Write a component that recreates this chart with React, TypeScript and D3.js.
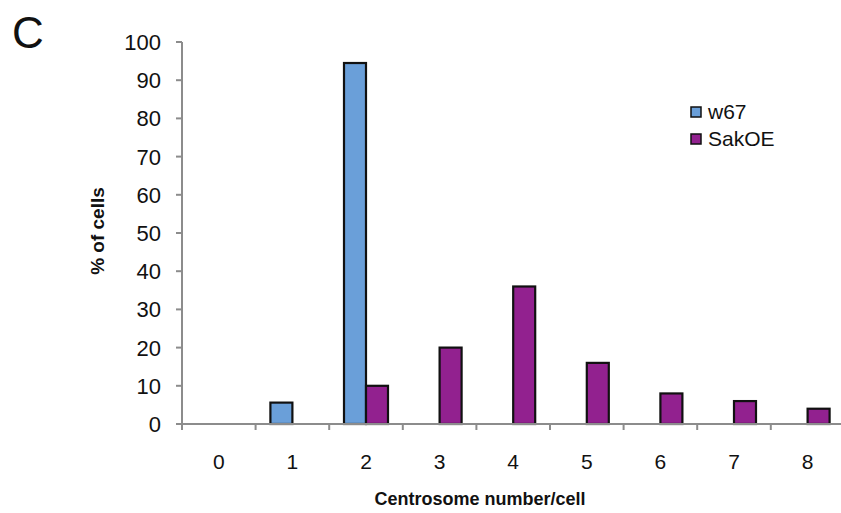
import React from 'react';
import * as d3 from 'd3';

// Grouped bar chart: centrosome number per cell, two genotypes.

const categories = ['0', '1', '2', '3', '4', '5', '6', '7', '8'];
const seriesNames = ['w67', 'SakOE'];
const w67 = [0, 5.6, 94.5, 0, 0, 0, 0, 0, 0];
const sakOE = [0, 0, 10, 20, 36, 16, 8, 6, 4];
const yTicks = [0, 10, 20, 30, 40, 50, 60, 70, 80, 90, 100];

const COLORS = ['#6a9fd9', '#92218f'];
const WIDTH = 841;
const HEIGHT = 513;
const FONT = 'Liberation Sans, Arial, Helvetica, sans-serif';

const App = () => {
  const x = d3.scaleBand().domain(categories).range([182, 182 + 9 * 73.6]);
  const inner = d3.scaleBand().domain(seriesNames).range([0, 44]);
  const y = d3.scaleLinear().domain([0, 100]).range([424, 42]);
  const groupOffset = (x.bandwidth() - 44) / 2;
  const data = [w67, sakOE];
  const x0 = x.range()[0];
  const x1 = x.range()[1];

  return (
    <svg width={WIDTH} height={HEIGHT} style={{ position: 'absolute', left: 0, top: 0, fontFamily: FONT }}>
      <rect width={WIDTH} height={HEIGHT} fill="#fff" />
      <text x={12} y={48} fontSize={44} fill="#111">C</text>

      {/* y axis */}
      <line x1={x0} x2={x0} y1={y(100)} y2={y(0)} stroke="#8c8c8c" strokeWidth={2} />
      {yTicks.map(t => (
        <g key={t}>
          <line x1={x0 - 6} x2={x0} y1={y(t)} y2={y(t)} stroke="#8c8c8c" strokeWidth={2} />
          <text x={161} y={y(t) + 8} textAnchor="end" fontSize={22} fill="#111">{t}</text>
        </g>
      ))}

      {/* bars */}
      {seriesNames.map((s, si) =>
        categories.map((c, ci) => {
          const v = data[si][ci];
          if (!v) return null;
          return (
            <rect
              key={s + c}
              x={(x(c) as number) + groupOffset + (inner(s) as number)}
              y={y(v)}
              width={inner.bandwidth()}
              height={y(0) - y(v)}
              fill={COLORS[si]}
              stroke="#111"
              strokeWidth={2.2}
            />
          );
        })
      )}

      {/* x axis */}
      <line x1={x0 - 6} x2={x1} y1={y(0)} y2={y(0)} stroke="#8c8c8c" strokeWidth={2} />
      {categories.map(c => (
        <g key={c}>
          <line x1={x(c) as number} x2={x(c) as number} y1={y(0)} y2={y(0) + 6} stroke="#8c8c8c" strokeWidth={2} />
          <text x={(x(c) as number) + x.bandwidth() / 2} y={469} textAnchor="middle" fontSize={21} fill="#111">{c}</text>
        </g>
      ))}

      <text x={480} y={505} textAnchor="middle" fontSize={18} fontWeight="bold" fill="#111">Centrosome number/cell</text>
      <text transform="translate(104,231) rotate(-90)" textAnchor="middle" fontSize={19} fontWeight="bold" fill="#111">% of cells</text>

      {/* legend */}
      {seriesNames.map((s, i) => (
        <g key={s} transform={`translate(691,${107 + i * 27})`}>
          <rect width={10} height={10} fill={COLORS[i]} stroke="#111" strokeWidth={1.5} />
          <text x={17} y={12} fontSize={21} fill="#111">{s}</text>
        </g>
      ))}
    </svg>
  );
};

export default App;
